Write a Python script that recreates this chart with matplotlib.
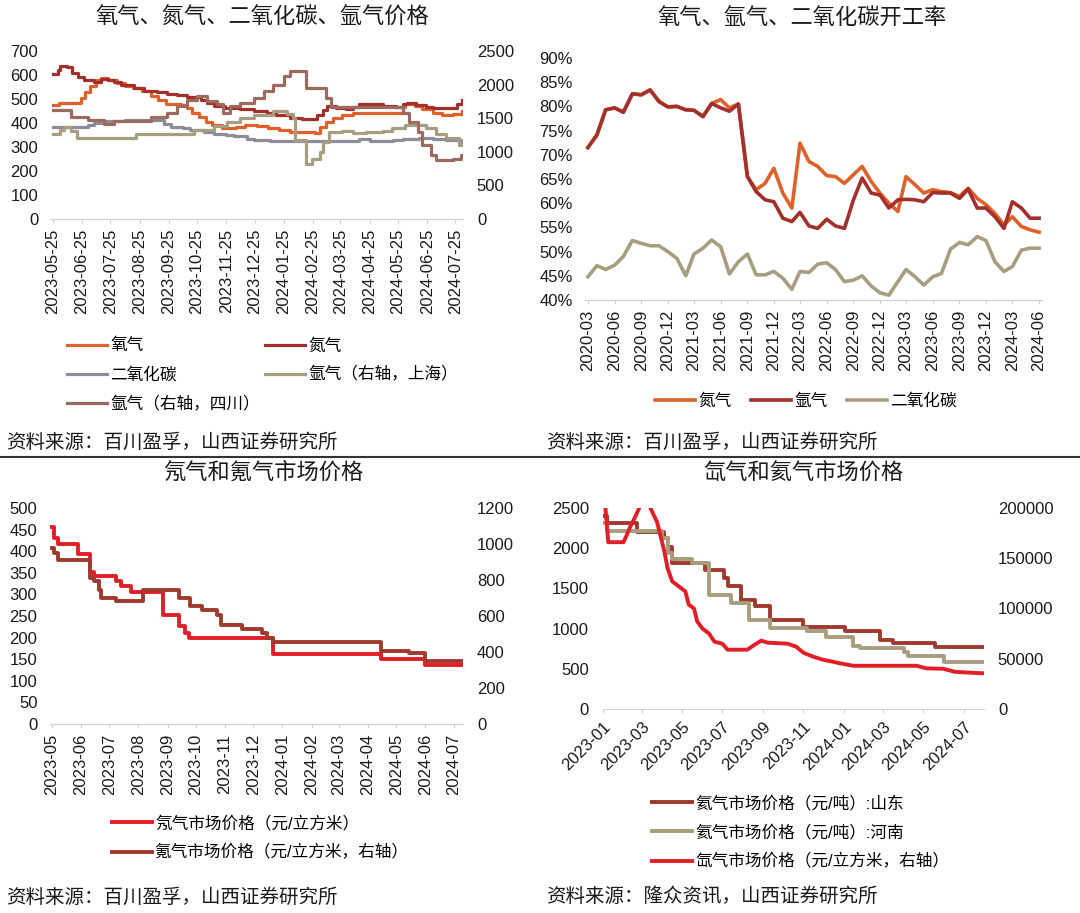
import numpy as np
import pandas as pd
import matplotlib
matplotlib.use("Agg")
import matplotlib.pyplot as plt
from matplotlib.lines import Line2D

plt.rcParams['font.family'] = ['Liberation Sans', 'Noto Sans CJK SC', 'DejaVu Sans']
plt.rcParams['axes.unicode_minus'] = False

W, H = 1080, 913

# ---- 图1 氧气、氮气、二氧化碳、氩气价格 ----
o_dates = ['2023-05-25','2023-06-01','2023-06-20','2023-06-24','2023-06-28','2023-07-03','2023-07-10','2023-07-15','2023-07-22','2023-08-01',
           '2023-08-10','2023-08-18','2023-08-28','2023-09-06','2023-09-14','2023-09-22','2023-10-08','2023-10-14','2023-10-20','2023-10-27',
           '2023-11-03','2023-11-10','2023-11-20','2023-12-05','2023-12-15','2023-12-28','2024-01-08','2024-01-20','2024-02-01','2024-02-27',
           '2024-03-03','2024-03-10','2024-03-17','2024-03-27','2024-04-07','2024-05-23','2024-05-30','2024-06-02','2024-06-12','2024-06-20',
           '2024-07-01','2024-07-11','2024-07-22','2024-08-01']
o_vals = [475, 482, 482, 505, 530, 555, 578, 588, 580, 568,
          556, 545, 532, 512, 495, 478, 476, 462, 440, 425,
          405, 390, 378, 385, 392, 388, 378, 372, 362, 360,
          385, 405, 420, 432, 441, 443, 468, 478, 470, 458,
          442, 432, 437, 451]

n_dates = ['2023-05-25','2023-05-30','2023-06-02','2023-06-09','2023-06-14','2023-06-21','2023-06-27','2023-07-08','2023-07-15','2023-07-22',
           '2023-07-29','2023-08-05','2023-08-19','2023-08-30','2023-09-13','2023-09-23','2023-10-04','2023-10-14','2023-10-29','2023-11-05',
           '2023-11-12','2023-11-24','2023-12-10','2023-12-24','2024-01-07','2024-01-17','2024-02-01','2024-02-13','2024-02-22','2024-02-29',
           '2024-03-06','2024-03-11','2024-03-20','2024-03-31','2024-04-07','2024-04-14','2024-05-09','2024-05-23','2024-05-30','2024-06-04',
           '2024-06-13','2024-06-24','2024-07-01','2024-07-22','2024-07-27','2024-08-01']
n_vals = [605, 620, 637, 632, 610, 590, 580, 572, 585, 578,
          570, 560, 546, 532, 528, 522, 515, 508, 497, 482,
          470, 462, 458, 452, 440, 432, 420, 415, 418, 432,
          455, 470, 463, 460, 468, 478, 472, 466, 478, 485,
          476, 468, 462, 462, 480, 495]

c_dates = ['2023-05-25','2023-06-10','2023-06-25','2023-07-01','2023-07-08','2023-07-20','2023-08-10','2023-09-15','2023-09-20','2023-09-27',
           '2023-10-10','2023-10-18','2023-11-01','2023-11-12','2023-11-25','2023-12-03','2023-12-17','2023-12-24','2024-01-10','2024-02-15',
           '2024-03-31','2024-04-14','2024-04-25','2024-05-20','2024-05-30','2024-06-16','2024-07-01','2024-07-15','2024-08-01']
c_vals = [385, 383, 385, 392, 400, 410, 412, 412, 395, 385,
          378, 370, 362, 356, 350, 345, 335, 329, 326, 325,
          325, 333, 327, 330, 333, 338, 332, 328, 322]

sh_dates = ['2023-05-25','2023-06-02','2023-06-06','2023-06-13','2023-06-20','2023-08-21','2023-10-14','2023-10-22','2023-11-12','2023-11-26',
            '2023-12-10','2023-12-24','2024-01-14','2024-01-28','2024-02-04','2024-02-06','2024-02-17','2024-02-18','2024-02-24','2024-03-03',
            '2024-03-06','2024-03-13','2024-03-27','2024-04-07','2024-04-21','2024-05-09','2024-05-19','2024-06-02','2024-06-24','2024-07-04',
            '2024-07-15','2024-07-29','2024-08-01']
sh_vals = [1270, 1330, 1370, 1310, 1200, 1270, 1270, 1320, 1390, 1450,
           1500, 1550, 1600, 1560, 1500, 1170, 1170, 820, 900, 1000,
           1150, 1290, 1310, 1275, 1300, 1310, 1350, 1400, 1360, 1260,
           1200, 1100, 1100]

sc_dates = ['2023-05-25','2023-06-13','2023-07-01','2023-07-18','2023-07-29','2023-09-06','2023-09-23','2023-10-04','2023-10-14','2023-10-25',
            '2023-11-05','2023-11-15','2023-11-22','2023-11-29','2023-12-10','2023-12-24','2024-01-04','2024-01-14','2024-01-25','2024-02-01',
            '2024-02-18','2024-03-10','2024-03-15','2024-05-30','2024-06-06','2024-06-15','2024-06-20','2024-06-29','2024-07-04','2024-07-22',
            '2024-07-31','2024-08-01']
sc_vals = [1620, 1525, 1475, 1410, 1460, 1525, 1575, 1675, 1775, 1825,
           1760, 1710, 1580, 1675, 1725, 1800, 1900, 1990, 2125, 2200,
           1950, 1800, 1660, 1580, 1450, 1300, 1100, 950, 880, 900,
           950, 950]

# ---- 图2 开工率（月度，2020-03 起）----
rate_start = '2020-03-01'
n_rate = [71.5, 74.1, 79.3, 79.7, 78.8, 82.6, 82.4, 83.4, 81.0, 79.9,
          80.0, 79.3, 79.2, 77.9, 80.6, 81.4, 79.7, 80.5, 65.5, 62.8,
          64.1, 67.2, 62.1, 59.0, 72.4, 68.6, 67.6, 65.7, 65.5, 64.1,
          65.9, 67.6, 64.5, 62.1, 60.0, 58.3, 65.5, 63.8, 62.1, 62.8,
          62.4, 62.2, 61.4, 63.1, 61.0, 59.7, 57.9, 55.5, 57.2, 55.2,
          54.5, 54.0]
ar_rate = [71.5, 74.1, 79.3, 79.7, 78.8, 82.6, 82.4, 83.4, 81.0, 79.9,
           80.0, 79.3, 79.2, 77.9, 80.6, 79.7, 79.0, 80.5, 65.5, 62.4,
           60.7, 60.3, 56.9, 56.2, 58.1, 55.3, 54.8, 56.7, 55.3, 54.8,
           60.7, 65.2, 62.1, 61.7, 59.0, 60.7, 60.8, 60.7, 60.3, 62.2,
           62.1, 62.1, 61.0, 62.9, 59.0, 59.0, 57.2, 54.8, 60.3, 59.0,
           56.9, 56.9]
co2_rate = [44.8, 47.1, 46.3, 47.2, 49.0, 52.3, 51.7, 51.2, 51.2, 50.0,
            48.6, 45.0, 49.5, 50.7, 52.4, 51.0, 45.4, 47.9, 49.5, 45.2,
            45.2, 45.9, 44.5, 42.2, 45.9, 45.7, 47.4, 47.7, 46.3, 43.8,
            44.1, 45.0, 42.9, 41.5, 41.0, 43.8, 46.3, 44.8, 43.1, 44.8,
            45.5, 50.5, 51.9, 51.4, 53.1, 52.3, 47.9, 45.9, 46.9, 50.3,
            50.7, 50.7]

# ---- 图3 氖气和氪气 ----
ne_dates = ['2023-05-01','2023-05-03','2023-05-08','2023-05-29','2023-06-10','2023-06-15','2023-07-08','2023-07-13','2023-07-24','2023-08-27',
            '2023-09-13','2023-09-20','2023-09-24','2023-12-22','2024-04-15','2024-06-01','2024-07-10']
ne_vals = [455, 430, 417, 394, 352, 342, 330, 319, 305, 253,
           228, 211, 200, 163, 150, 136, 136]
kr_dates = ['2023-05-01','2023-05-03','2023-05-08','2023-06-10','2023-06-15','2023-06-20','2023-06-22','2023-07-08','2023-08-06','2023-09-13',
            '2023-09-25','2023-10-08','2023-10-24','2023-10-28','2023-11-19','2023-12-10','2023-12-16','2023-12-22','2024-04-15','2024-05-15',
            '2024-06-01','2024-07-10']
kr_vals = [980, 950, 910, 812, 793, 746, 700, 681, 746, 700,
           654, 635, 607, 552, 528, 505, 478, 455, 404, 395,
           352, 352]

# ---- 图4 氙气和氦气 ----
sd_dates = ['2023-01-01','2023-01-07','2023-02-21','2023-04-04','2023-04-09','2023-04-16','2023-06-04','2023-07-04','2023-07-09','2023-07-29',
            '2023-08-19','2023-09-11','2023-11-01','2024-01-03','2024-02-25','2024-03-16','2024-05-18','2024-08-01']
sd_vals = [2400, 2310, 2200, 2130, 2020, 1815, 1730, 1630, 1525, 1360,
           1275, 1110, 1015, 965, 860, 820, 765, 765]
hn_dates = ['2023-01-01','2023-01-07','2023-04-01','2023-04-09','2023-04-16','2023-05-16','2023-06-11','2023-07-14','2023-08-11','2023-09-11',
            '2023-11-06','2023-12-06','2024-01-16','2024-01-26','2024-04-01','2024-04-08','2024-06-02','2024-08-01']
hn_vals = [2310, 2210, 2130, 1940, 1870, 1815, 1420, 1315, 1110, 1005,
           965, 900, 780, 755, 705, 655, 580, 580]
xe_dates = ['2023-01-04','2023-01-06','2023-01-09','2023-02-01','2023-02-04','2023-02-11','2023-02-18','2023-02-25','2023-03-01','2023-03-09',
            '2023-03-14','2023-03-19','2023-03-24','2023-03-29','2023-04-04','2023-04-09','2023-04-16','2023-04-26','2023-05-06','2023-05-11',
            '2023-05-19','2023-05-24','2023-06-01','2023-06-11','2023-06-19','2023-07-01','2023-07-09','2023-08-08','2023-08-19','2023-08-29',
            '2023-09-08','2023-10-08','2023-10-21','2023-11-01','2023-11-16','2023-12-01','2023-12-16','2023-12-26','2024-01-16','2024-04-21',
            '2024-05-05','2024-05-31','2024-06-18','2024-07-15','2024-08-01']
xe_vals = [205000, 190000, 166000, 166000, 170000, 181000, 190000, 200000, 210000, 210000,
           200000, 193000, 186000, 173000, 157000, 140000, 127000, 122000, 117000, 104000,
           100000, 87000, 80000, 75000, 67000, 65000, 59000, 59000, 64000, 68000,
           66000, 65000, 62000, 56000, 52000, 49000, 47000, 45500, 43000, 43000,
           40500, 40000, 37000, 36000, 35500]

ORANGE = '#E0622A'
DARKRED = '#A3302A'
GRAY = '#8E8C99'
TAN = '#A99D80'
ROSE = '#9C6B60'
RED = '#E41E26'
BROWN = '#A03A2E'
TXT = '#1a1a1a'

fig = plt.figure(figsize=(W / 100, H / 100), dpi=100)


def px_axes(l, t, r, b):
    return fig.add_axes([l / W, 1 - b / H, (r - l) / W, (b - t) / H])


def style(ax, lpad=9):
    for s in ['top', 'left', 'right']:
        ax.spines[s].set_visible(False)
    ax.spines['bottom'].set_color('#d0d0d0')
    ax.tick_params(axis='y', length=0, labelsize=12, pad=lpad, colors=TXT)
    ax.tick_params(axis='x', length=3, color='#d0d0d0', labelsize=12, pad=4, labelcolor=TXT)


def twin(ax, pad=10):
    axr = ax.twinx()
    for s in axr.spines.values():
        s.set_visible(False)
    axr.tick_params(axis='y', length=0, labelsize=12, pad=pad, colors=TXT)
    return axr


def leg(handles, labels, x, y, ncol=1, colsp=0.3):
    fig.legend(handles, labels, loc='upper left', bbox_to_anchor=(x / W, 1 - y / H),
               ncol=ncol, frameon=False, fontsize=12, handlelength=2.4, handletextpad=0.2,
               labelspacing=0.8, columnspacing=colsp, borderpad=0, borderaxespad=0)


def dt(s):
    return pd.to_datetime(s)


# 图1
ax1 = px_axes(50, 51, 463, 219)
style(ax1, 8.5)
ax1r = twin(ax1, 10)
l_o, = ax1.plot(dt(o_dates), o_vals, drawstyle='steps-post', color=ORANGE, lw=2.3)
l_n, = ax1.plot(dt(n_dates), n_vals, drawstyle='steps-post', color=DARKRED, lw=2.3)
l_c, = ax1.plot(dt(c_dates), c_vals, drawstyle='steps-post', color=GRAY, lw=2.3)
l_sh, = ax1r.plot(dt(sh_dates), sh_vals, drawstyle='steps-post', color=TAN, lw=2.3)
l_sc, = ax1r.plot(dt(sc_dates), sc_vals, drawstyle='steps-post', color=ROSE, lw=2.3)
ax1.set_ylim(0, 700)
ax1.set_yticks(range(0, 701, 100))
ax1r.set_ylim(0, 2500)
ax1r.set_yticks(range(0, 2501, 500))
ax1.set_xlim(pd.Timestamp('2023-05-22'), pd.Timestamp('2024-08-02'))
t1 = pd.date_range('2023-05-25', '2024-07-25', freq=pd.DateOffset(months=1))
ax1.set_xticks(t1)
ax1.set_xticklabels([t.strftime('%Y-%m-%d') for t in t1], rotation=90)
leg([l_o, l_c, l_sc, l_n, l_sh], ['氧气', '二氧化碳', '氩气（右轴，四川）', '氮气', '氩气（右轴，上海）'],
    67, 338, ncol=2, colsp=0.3)

# 图2
ax2 = px_axes(585, 58, 1042, 300)
style(ax2, 9)
mon = pd.date_range(rate_start, periods=len(n_rate), freq='MS')
l2n, = ax2.plot(mon, n_rate, color=ORANGE, lw=2.6)
l2a, = ax2.plot(mon, ar_rate, color=DARKRED, lw=2.6)
l2c, = ax2.plot(mon, co2_rate, color=TAN, lw=2.6)
ax2.set_ylim(40, 90)
ax2.set_yticks(range(40, 91, 5))
ax2.set_yticklabels([f'{v}%' for v in range(40, 91, 5)])
ax2.set_xlim(pd.Timestamp('2020-02-20'), pd.Timestamp('2024-06-11'))
t2 = pd.date_range('2020-03-01', '2024-06-01', freq='3MS')
ax2.set_xticks(t2)
ax2.set_xticklabels([t.strftime('%Y-%m') for t in t2], rotation=90)
leg([l2n, l2a, l2c], ['氮气', '氩气', '二氧化碳'], 655, 393, ncol=3, colsp=1.15)

# 图3
ax3 = px_axes(50, 508, 463, 724)
style(ax3, 9)
ax3r = twin(ax3, 10)
l3n, = ax3.plot(dt(ne_dates), ne_vals, drawstyle='steps-post', color=RED, lw=2.8)
l3k, = ax3r.plot(dt(kr_dates), kr_vals, drawstyle='steps-post', color=BROWN, lw=2.8)
ax3.set_ylim(0, 500)
ax3.set_yticks(range(0, 501, 50))
ax3r.set_ylim(0, 1200)
ax3r.set_yticks(range(0, 1201, 200))
ax3.set_xlim(pd.Timestamp('2023-04-29'), pd.Timestamp('2024-07-11'))
t3 = pd.date_range('2023-05-01', '2024-07-01', freq='MS')
ax3.set_xticks(t3)
ax3.set_xticklabels([t.strftime('%Y-%m') for t in t3], rotation=90)
leg([l3n, l3k], ['氖气市场价格（元/立方米）', '氪气市场价格（元/立方米，右轴）'], 112, 815)

# 图4
ax4 = px_axes(603, 508, 984, 709)
style(ax4, 10)
ax4r = twin(ax4, 10)
l4s, = ax4.plot(dt(sd_dates), sd_vals, drawstyle='steps-post', color=BROWN, lw=2.8)
l4h, = ax4.plot(dt(hn_dates), hn_vals, drawstyle='steps-post', color=TAN, lw=2.8)
l4x, = ax4r.plot(dt(xe_dates), xe_vals, color=RED, lw=2.8)
ax4.set_ylim(0, 2500)
ax4.set_yticks(range(0, 2501, 500))
ax4r.set_ylim(0, 200000)
ax4r.set_yticks(range(0, 200001, 50000))
ax4.set_xlim(pd.Timestamp('2023-01-01'), pd.Timestamp('2024-08-01'))
t4 = pd.date_range('2023-01-01', '2024-07-01', freq='2MS')
ax4.set_xticks(t4)
ax4.set_xticklabels([t.strftime('%Y-%m') for t in t4], rotation=45, ha='right', va='top',
                    rotation_mode='anchor')
leg([l4s, l4h, l4x], ['氦气市场价格（元/吨）:山东', '氦气市场价格（元/吨）:河南', '氙气市场价格（元/立方米，右轴）'],
    652, 795)

# 标题与来源
titles = [('氧气、氮气、二氧化碳、氩气价格', 262, 18), ('氧气、氩气、二氧化碳开工率', 802, 18),
          ('氖气和氪气市场价格', 263, 473), ('氙气和氦气市场价格', 803, 473)]
for txt, x, y in titles:
    fig.text(x / W, 1 - y / H, txt, ha='center', va='center', fontsize=16, color=TXT)

sources = [('资料来源：百川盈孚，山西证券研究所', 6, 442), ('资料来源：百川盈孚，山西证券研究所', 546, 442),
           ('资料来源：百川盈孚，山西证券研究所', 6, 897), ('资料来源：隆众资讯，山西证券研究所', 546, 897)]
for txt, x, y in sources:
    fig.text(x / W, 1 - y / H, txt, ha='left', va='center', fontsize=14, color=TXT)

fig.add_artist(Line2D([0, 1], [1 - 457 / H, 1 - 457 / H], color='#333333', lw=1.5))

fig.savefig('out.png', dpi=100)
